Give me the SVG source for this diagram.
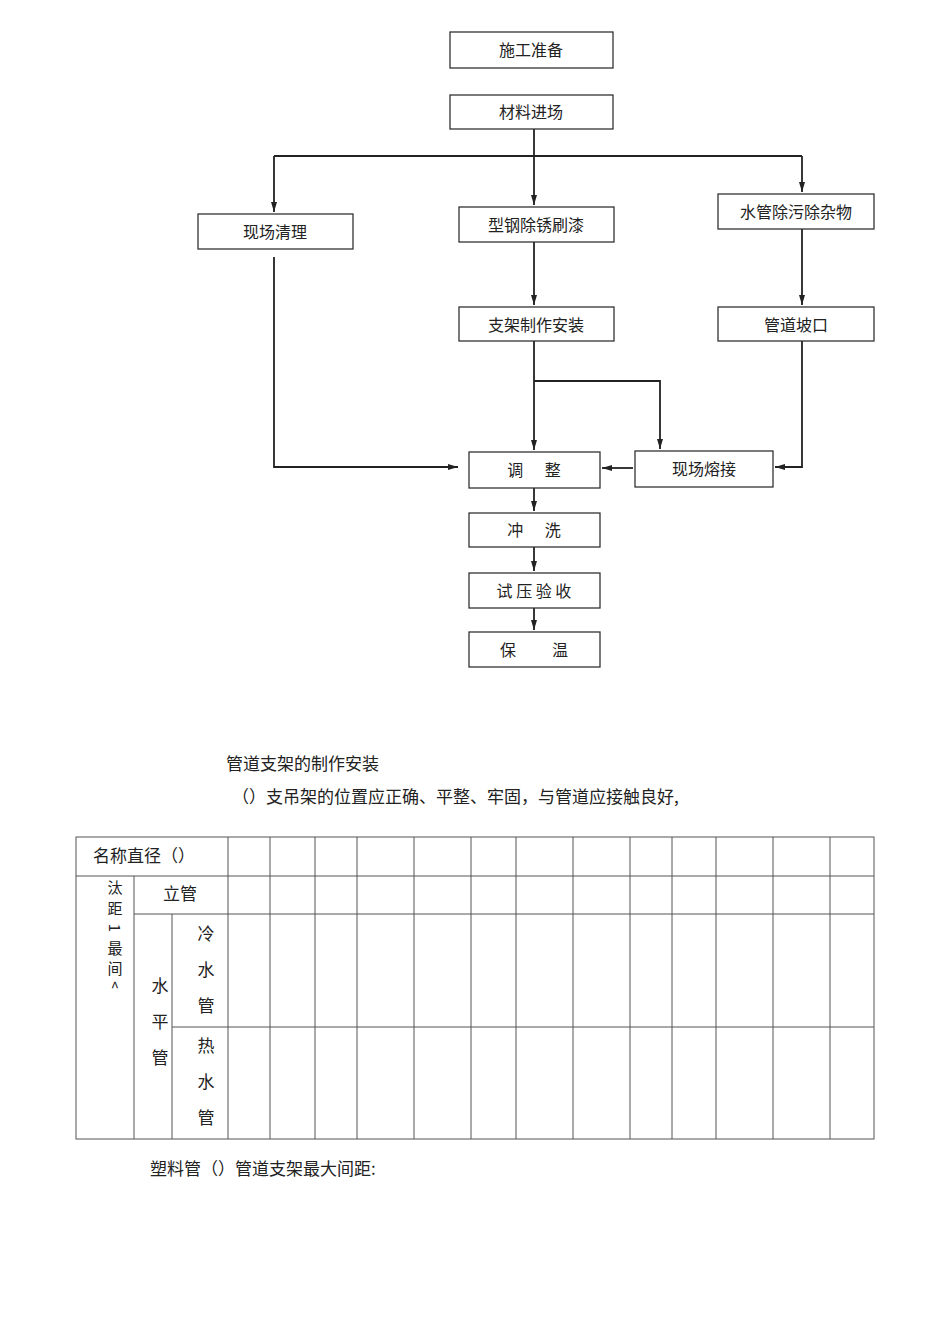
<svg xmlns="http://www.w3.org/2000/svg" width="950" height="1344" viewBox="0 0 950 1344">
<style>
.b{fill:#fff;stroke:#333;stroke-width:1.3}
.t{font-family:"Noto Sans CJK SC","Liberation Sans",sans-serif;font-size:16px;fill:#222;text-anchor:middle}
.p{font-family:"Noto Sans CJK SC","Liberation Serif",serif;font-size:17px;fill:#222}
.c{fill:none;stroke:#222;stroke-width:1.8}
.g{stroke:#555;stroke-width:1;fill:none}
</style>
<defs><marker id="m" viewBox="0 0 10 10" refX="10" refY="5" markerWidth="12" markerHeight="10" orient="auto" markerUnits="userSpaceOnUse"><path d="M0,2L10,5L0,8z" fill="#222"/></marker></defs>
<rect width="950" height="1344" fill="#fff"/>
<g id="connectors">
<path class="c" d="M534,129V205" marker-end="url(#m)"/>
<path class="c" d="M274,156H802M274,156V212" marker-end="url(#m)"/>
<path class="c" d="M802,156V192" marker-end="url(#m)"/>
<path class="c" d="M534,242V305" marker-end="url(#m)"/>
<path class="c" d="M802,229V305" marker-end="url(#m)"/>
<path class="c" d="M534,341V450" marker-end="url(#m)"/>
<path class="c" d="M534,381H660V449" marker-end="url(#m)"/>
<path class="c" d="M274,257V467H458" marker-end="url(#m)"/>
<path class="c" d="M802,341V467H775" marker-end="url(#m)"/>
<path class="c" d="M633,468H602" marker-end="url(#m)"/>
<path class="c" d="M534,488V511" marker-end="url(#m)"/>
<path class="c" d="M534,547V571" marker-end="url(#m)"/>
<path class="c" d="M534,608V630" marker-end="url(#m)"/>
</g>
<g id="n1"><rect class="b" x="450" y="32" width="163" height="36"/><text class="t" x="531" y="56">施工准备</text></g>
<g id="n2"><rect class="b" x="450" y="95" width="163" height="34"/><text class="t" x="531" y="118">材料进场</text></g>
<g id="n3"><rect class="b" x="198" y="214" width="155" height="35"/><text class="t" x="275" y="238">现场清理</text></g>
<g id="n4"><rect class="b" x="459" y="207" width="155" height="35"/><text class="t" x="536" y="231">型钢除锈刷漆</text></g>
<g id="n5"><rect class="b" x="718" y="194" width="156" height="35"/><text class="t" x="796" y="218">水管除污除杂物</text></g>
<g id="n6"><rect class="b" x="459" y="307" width="155" height="34"/><text class="t" x="536" y="331">支架制作安装</text></g>
<g id="n7"><rect class="b" x="718" y="307" width="156" height="34"/><text class="t" x="796" y="331">管道坡口</text></g>
<g id="n8"><rect class="b" x="469" y="452" width="131" height="36"/><text class="t" x="534" y="476" xml:space="preserve">调      整</text></g>
<g id="n9"><rect class="b" x="635" y="451" width="138" height="36"/><text class="t" x="704" y="475">现场熔接</text></g>
<g id="n10"><rect class="b" x="469" y="513" width="131" height="34"/><text class="t" x="534" y="536" xml:space="preserve">冲      洗</text></g>
<g id="n11"><rect class="b" x="469" y="573" width="131" height="35"/><text class="t" x="534" y="597" xml:space="preserve">试 压 验 收</text></g>
<g id="n12"><rect class="b" x="469" y="632" width="131" height="35"/><text class="t" x="534" y="656" xml:space="preserve">保          温</text></g>
<text class="p" x="226" y="770">管道支架的制作安装</text>
<text class="p" x="232" y="803">（）支吊架的位置应正确、平整、牢固，与管道应接触良好,</text>
<g id="table">
<rect class="g" x="76" y="837" width="798" height="302"/>
<path class="g" d="M76,876H874M134,914H874M172,1027H874M134,876V1139M172,914V1139M228,837V1139M270,837V1139M315,837V1139M357,837V1139M414,837V1139M471,837V1139M516,837V1139M573,837V1139M630,837V1139M672,837V1139M716,837V1139M773,837V1139M830,837V1139"/>
<text class="p" x="93" y="862">名称直径（）</text>
<text class="p" x="163" y="900">立管</text>
<g class="p" style="font-size:15px;text-anchor:middle"><text x="115" y="893">汰</text><text x="115" y="914">距</text><text x="115" y="934" transform="rotate(90 115 928)">1</text><text x="115" y="954">最</text><text x="115" y="974">间</text><text x="115" y="993">^</text></g>
<g class="p" style="text-anchor:middle"><text x="160" y="992">水</text><text x="160" y="1028">平</text><text x="160" y="1064">管</text>
<text x="206" y="940">冷</text><text x="206" y="976">水</text><text x="206" y="1012">管</text>
<text x="206" y="1052">热</text><text x="206" y="1088">水</text><text x="206" y="1124">管</text></g>
</g>
<text class="p" x="150" y="1175">塑料管（）管道支架最大间距:</text>
</svg>
